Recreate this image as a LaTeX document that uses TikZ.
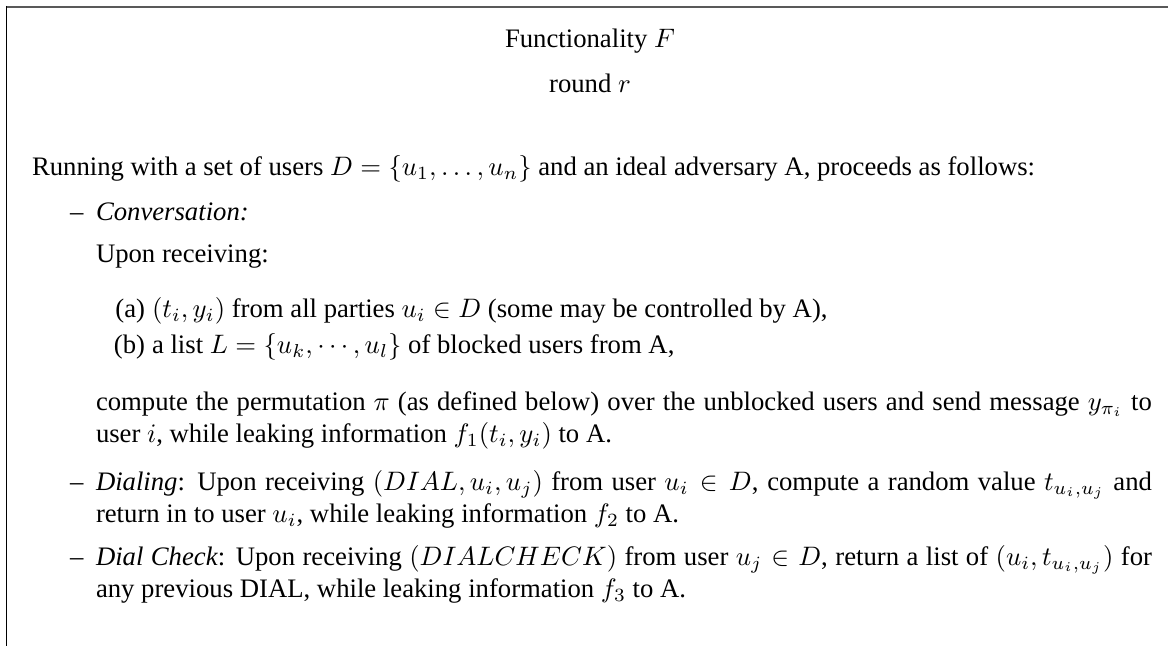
\documentclass[tikz,border=0pt]{standalone}
\usepackage[no-math]{fontspec}
\setmainfont{Liberation Serif}
% one full text line, stretched to the right margin
\newcommand{\fullline}[1]{\hbox to 395.5pt{#1}}
\begin{document}
\begin{tikzpicture}[x=0.374532pt,y=-0.374532pt,
  txt/.style={anchor=base west,inner sep=0pt,outer sep=0pt,font=\fontsize{10}{12}\selectfont},
  ctr/.style={anchor=base,inner sep=0pt,outer sep=0pt,font=\fontsize{10}{12}\selectfont},
  lbl/.style={anchor=base east,inner sep=0pt,outer sep=0pt,font=\fontsize{10}{12}\selectfont},
  topframe/.style={line width=0.75pt,draw=black!65},
  sideframe/.style={line width=0.5pt,draw=black}]
\useasboundingbox (0,0) rectangle (1168,646);

% frame: rule on top and on the left
\draw[topframe] (6,7) -- (1168,7);
\draw[sideframe] (6.5,6) -- (6.5,646);

% heading
\node[ctr] (title) at (590,48) {Functionality $F$};
\node[ctr] (round) at (590,93) {round $r$};

% body
\node[txt] (intro) at (32,175) {Running with a set of users $D=\{u_1,\ldots,u_n\}$ and an ideal adversary A, proceeds as follows:};

\node[txt] (dashA) at (70,220) {--};
\node[txt] (conv) at (96,220) {\textit{Conversation:}};
\node[txt] (upon) at (96,262) {Upon receiving:};

\node[lbl] (la) at (145,317) {(a)};
\node[txt] (ia) at (152,317) {$(t_i,y_i)$ from all parties $u_i\in D$ (some may be controlled by A),};
\node[lbl] (lb) at (145,353) {(b)};
\node[txt] (ib) at (152,353) {a list $L=\{u_k,\cdots,u_l\}$ of blocked users from A,};

\node[txt] (perm1) at (96,410) {\fullline{compute the permutation $\pi$ (as defined below) over the unblocked users and send message $y_{\pi_i}$ to}};
\node[txt] (perm2) at (96,442) {user $i$, while leaking information $f_1(t_i,y_i)$ to A.};

\node[txt] (dashB) at (70,490) {--};
\node[txt] (dial1) at (96,490) {\fullline{\textit{Dialing}: Upon receiving $(DIAL,u_i,u_j)$ from user $u_i\in D$, compute a random value $t_{u_i,u_j}$ and}};
\node[txt] (dial2) at (96,522) {return in to user $u_i$, while leaking information $f_2$ to A.};

\node[txt] (dashC) at (70,565) {--};
\node[txt] (check1) at (96,565) {\fullline{\textit{Dial Check}: Upon receiving $(DIALCHECK)$ from user $u_j\in D$, return a list of $(u_i,t_{u_i,u_j})$ for}};
\node[txt] (check2) at (96,597) {any previous DIAL, while leaking information $f_3$ to A.};
\end{tikzpicture}
\end{document}
